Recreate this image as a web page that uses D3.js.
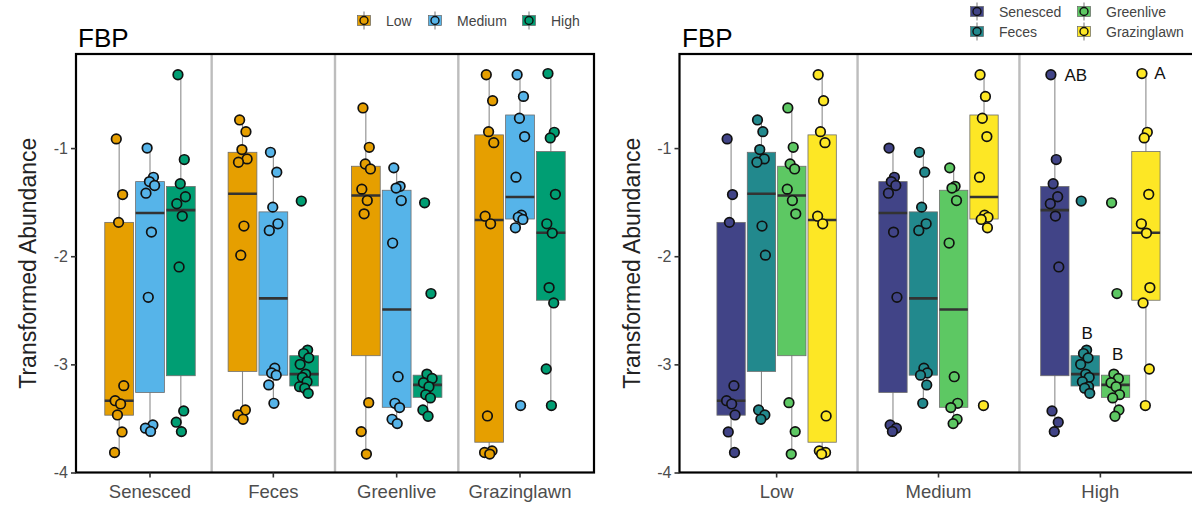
<!DOCTYPE html>
<html>
<head>
<meta charset="utf-8">
<script src="https://cdn.jsdelivr.net/npm/d3@7"></script>
<style>
  html, body { margin: 0; padding: 0; background: #fff; }
  svg { display: block; font-family: "Liberation Sans", Arial, sans-serif; }
</style>
</head>
<body>
<svg id="chart" width="1192" height="508"></svg>
<script>
// ---- data -------------------------------------------------------------
const substrates = ["Senesced", "Feces", "Greenlive", "Grazinglawn"];
const levels = ["Low", "Medium", "High"];
const levelColors = ["#E69F00", "#56B4E9", "#009E73"];
const substrateColors = ["#414487", "#22898D", "#5DC863", "#FDE725"];
const yTicks = [-1, -2, -3, -4];
const yDomain = [-4.0, -0.13];

// observations (transformed abundance) per substrate x level
const senescedLow      = [-0.915, -1.43, -1.687, -3.197, -3.336, -3.366, -3.468, -3.625, -3.815];
const senescedMedium   = [-1.0, -1.27, -1.31, -1.346, -1.417, -1.777, -2.38, -3.56, -3.59, -3.62];
const senescedHigh     = [-0.322, -1.106, -1.33, -1.45, -1.515, -1.629, -2.099, -3.431, -3.535, -3.622];
const fecesLow         = [-0.74, -0.848, -1.014, -1.10, -1.131, -1.721, -1.99, -3.422, -3.468, -3.508];
const fecesMedium      = [-1.039, -1.223, -1.546, -1.70, -1.762, -3.035, -3.08, -3.10, -3.19, -3.36];
const fecesHigh        = [-1.49, -2.868, -2.90, -2.94, -3.0, -3.09, -3.12, -3.16, -3.206, -3.22, -3.268];
const greenliveLow     = [-0.629, -0.993, -1.147, -1.193, -1.38, -1.485, -1.608, -3.354, -3.622, -3.83];
const greenliveMedium  = [-1.183, -1.354, -1.37, -1.485, -1.878, -3.114, -3.36, -3.40, -3.508, -3.548];
const greenliveHigh    = [-1.506, -2.345, -3.09, -3.13, -3.17, -3.206, -3.28, -3.31, -3.422, -3.48];
const grazinglawnLow   = [-0.322, -0.562, -0.848, -0.95, -1.63, -1.70, -3.477, -3.80, -3.815, -3.83];
const grazinglawnMedium= [-0.322, -0.522, -0.724, -0.894, -1.269, -1.62, -1.64, -1.66, -1.737, -3.381];
const grazinglawnHigh  = [-0.311, -0.854, -0.906, -1.428, -1.70, -1.786, -2.29, -2.432, -3.043, -3.381];

// box summaries, in order Senesced(Low,Medium,High), Feces(...), Greenlive(...), Grazinglawn(...)
const boxUpper     = [-1.687, -1.31, -1.355, -1.039, -1.59, -2.92, -1.168, -1.39, -3.10, -0.878, -0.694, -1.032];
const boxMedian    = [-3.336, -1.60, -1.574, -1.423, -2.39, -3.09, -1.438, -2.493, -3.19, -1.665, -1.453, -1.783];
const boxLower     = [-3.47, -3.26, -3.105, -3.065, -3.10, -3.20, -2.92, -3.397, -3.305, -3.72, -1.656, -2.407];
const whiskerTop   = [-0.915, -1.0, -0.322, -0.74, -1.039, -2.868, -0.629, -1.183, -3.09, -0.322, -0.322, -0.311];
const whiskerBottom= [-3.815, -3.62, -3.622, -3.508, -3.36, -3.268, -3.83, -3.548, -3.48, -3.83, -1.737, -3.381];

// significance letters within the High level
const letterText      = ["AB", "B", "B", "A"];
const letterSubstrate = ["Senesced", "Feces", "Greenlive", "Grazinglawn"];
const letterValue     = [-0.32, -2.71, -2.90, -0.31];

const observations = [
  senescedLow, senescedMedium, senescedHigh,
  fecesLow, fecesMedium, fecesHigh,
  greenliveLow, greenliveMedium, greenliveHigh,
  grazinglawnLow, grazinglawnMedium, grazinglawnHigh
];

// tidy records
const groups = [];
substrates.forEach((s, si) => levels.forEach((l, li) => {
  const k = si * levels.length + li;
  groups.push({
    substrate: s, level: l, values: observations[k],
    q3: boxUpper[k], med: boxMedian[k], q1: boxLower[k],
    hi: whiskerTop[k], lo: whiskerBottom[k]
  });
}));

// fixed horizontal spread for overlapping points (fraction of box width)
const spread = [-0.10, 0.12, -0.02, 0.16, -0.14, 0.05, -0.06, 0.10, -0.16, 0.02, 0.14];

// ---- drawing ----------------------------------------------------------
const svg = d3.select("#chart");
const plotTop = 54, plotBottom = 472.5;
const y = d3.scaleLinear().domain(yDomain).range([plotBottom, plotTop]);

function panel(opts) {
  const { left, right, outer, inner, innerColors, getOuter, getInner, legendItems, legendPos, shift, titleX, yTitleX } = opts;
  const g = svg.append("g");
  const x = d3.scaleBand().domain(outer).range([left, right]).paddingInner(0).paddingOuter(0.1);
  const bw = x.bandwidth();
  const dodge = d3.scaleBand().domain(inner).range([-0.375 * bw, 0.375 * bw]).padding(0);
  const boxW = 0.7 * bw / inner.length;
  const color = d3.scaleOrdinal().domain(inner).range(innerColors);

  const clip = "clip" + Math.round(left);
  svg.append("clipPath").attr("id", clip).append("rect")
    .attr("x", left).attr("y", plotTop).attr("width", right - left).attr("height", plotBottom - plotTop);
  const plot = g.append("g").attr("clip-path", `url(#${clip})`);

  // category separators
  plot.selectAll("line.sep").data(outer.slice(1)).join("line")
    .attr("x1", d => x(d)).attr("x2", d => x(d))
    .attr("y1", plotTop).attr("y2", plotBottom)
    .attr("stroke", "#bdbdbd").attr("stroke-width", 2.4);

  const cx = d => x(getOuter(d)) + bw / 2 + dodge(getInner(d)) + dodge.bandwidth() / 2;

  // whiskers
  plot.selectAll("line.wh").data(groups).join("line")
    .attr("x1", cx).attr("x2", cx)
    .attr("y1", d => y(d.hi)).attr("y2", d => y(d.lo))
    .attr("stroke", "#8c8c8c").attr("stroke-width", 1.1);

  // boxes
  plot.selectAll("rect.box").data(groups).join("rect")
    .attr("x", d => cx(d) - boxW / 2).attr("width", boxW)
    .attr("y", d => y(d.q3)).attr("height", d => y(d.q1) - y(d.q3))
    .attr("fill", d => color(getInner(d)))
    .attr("stroke", "#6e6e6e").attr("stroke-width", 0.8);

  // medians
  plot.selectAll("line.med").data(groups).join("line")
    .attr("x1", d => cx(d) - boxW / 2).attr("x2", d => cx(d) + boxW / 2)
    .attr("y1", d => y(d.med)).attr("y2", d => y(d.med))
    .attr("stroke", "#333").attr("stroke-width", 2.6);

  // points
  const pts = [];
  groups.forEach(d => d.values.forEach((v, i) => pts.push({ g: d, v, i })));
  plot.selectAll("circle.pt").data(pts).join("circle")
    .attr("cx", p => cx(p.g) + spread[(p.i + shift) % spread.length] * boxW)
    .attr("cy", p => y(p.v))
    .attr("r", 4.8)
    .attr("fill", p => color(getInner(p.g)))
    .attr("stroke", "#111").attr("stroke-width", 1.7);

  // panel frame
  g.append("rect").attr("x", left).attr("y", plotTop)
    .attr("width", right - left).attr("height", plotBottom - plotTop)
    .attr("fill", "none").attr("stroke", "#000").attr("stroke-width", 2.2);

  // axes
  const ya = g.append("g").attr("transform", `translate(${left},0)`)
    .call(d3.axisLeft(y).tickValues(yTicks).tickFormat(d => String(d)).tickSize(5).tickPadding(3));
  ya.select(".domain").remove();
  ya.selectAll(".tick line").attr("stroke", "#333").attr("stroke-width", 1.6);
  ya.selectAll(".tick text").attr("fill", "#4d4d4d").style("font-size", "16px")
    .style("font-family", "Liberation Sans, Arial, sans-serif");

  const xa = g.append("g").attr("transform", `translate(0,${plotBottom})`)
    .call(d3.axisBottom(x).tickSize(5).tickPadding(7));
  xa.select(".domain").remove();
  xa.selectAll(".tick line").attr("stroke", "#333").attr("stroke-width", 1.6);
  xa.selectAll(".tick text").attr("fill", "#4d4d4d").style("font-size", "18.5px")
    .style("font-family", "Liberation Sans, Arial, sans-serif");

  // titles
  g.append("text").attr("x", titleX).attr("y", 47).text("FBP")
    .style("font-size", "26px").attr("fill", "#000");
  g.append("text")
    .attr("transform", `translate(${yTitleX},${(plotTop + plotBottom) / 2}) rotate(-90)`)
    .attr("text-anchor", "middle").text("Transformed Abundance")
    .style("font-size", "23px").attr("fill", "#222");

  // legend
  legendItems.forEach((name, i) => {
    const [kx, ky] = legendPos[i];
    const lg = g.append("g").attr("transform", `translate(${kx},${ky})`);
    lg.append("line").attr("y1", -9).attr("y2", 9).attr("stroke", "#777").attr("stroke-width", 1);
    lg.append("rect").attr("x", -6.5).attr("y", -5).attr("width", 13).attr("height", 10)
      .attr("fill", color(name)).attr("stroke", "#666").attr("stroke-width", 0.7);
    lg.append("circle").attr("r", 4).attr("fill", color(name))
      .attr("stroke", "#111").attr("stroke-width", 1.4);
    lg.append("text").attr("x", 22).attr("y", 5).text(name)
      .style("font-size", "14px").attr("fill", "#444");
  });

  return { x, cx };
}

// panel 1: grouped by substrate, coloured by level
panel({
  left: 76, right: 594,
  outer: substrates, inner: levels, innerColors: levelColors,
  getOuter: d => d.substrate, getInner: d => d.level,
  legendItems: levels,
  legendPos: [[364, 20.5], [435, 20.5], [529, 20.5]],
  shift: 0, titleX: 78, yTitleX: 36
});

// panel 2: grouped by level, coloured by substrate
const p2 = panel({
  left: 679.5, right: 1197.5,
  outer: levels, inner: substrates, innerColors: substrateColors,
  getOuter: d => d.level, getInner: d => d.substrate,
  legendItems: substrates,
  legendPos: [[977, 11.5], [977, 31.5], [1084, 11.5], [1084, 31.5]],
  shift: 4, titleX: 682, yTitleX: 640
});

// significance letters on the High group
letterText.forEach((t, i) => {
  const s = letterSubstrate[i];
  const gx = p2.cx({ level: "High", substrate: s });
  const nudge = (t.length > 1 ? 21 : (i === 3 ? 14 : 2));
  svg.append("text").attr("x", gx + nudge).attr("y", y(letterValue[i]) + 6)
    .attr("text-anchor", "middle").text(t)
    .style("font-size", "17px").attr("fill", "#111");
});
</script>
</body>
</html>
